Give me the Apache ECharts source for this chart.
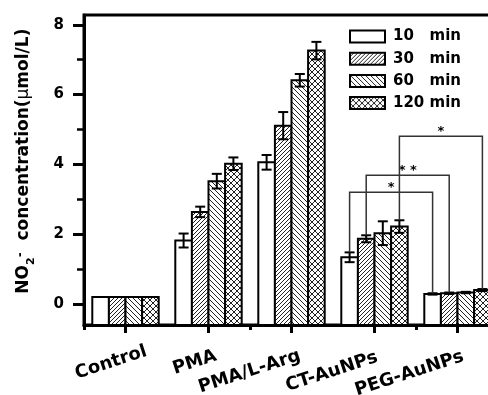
<!DOCTYPE html>
<html><head><meta charset="utf-8">
<script src="https://cdn.jsdelivr.net/npm/echarts@6/dist/echarts.min.js"></script>
<style>html,body{margin:0;padding:0;background:#fff}#c{width:488px;height:395px}</style>
</head><body><div id="c"></div>
<script>
// ---------- data ----------
const categories = ['Control', 'PMA', 'PMA/L-Arg', 'CT-AuNPs', 'PEG-AuNPs'];
const seriesNames = ['10   min', '30   min', '60   min', '120 min'];
const values10  = [0.20, 1.82, 4.06, 1.34, 0.29];
const errors10  = [0.00, 0.20, 0.21, 0.14, 0.02];
const values30  = [0.20, 2.64, 5.11, 1.87, 0.31];
const errors30  = [0.00, 0.15, 0.39, 0.10, 0.02];
const values60  = [0.20, 3.52, 6.41, 2.03, 0.33];
const errors60  = [0.00, 0.21, 0.18, 0.34, 0.02];
const values120 = [0.20, 4.02, 7.26, 2.22, 0.40];
const errors120 = [0.00, 0.18, 0.25, 0.18, 0.03];
const yTickValues = [0, 2, 4, 6, 8];
// significance brackets: [category, series] -> [category, series], bracket level (µmol/L), mark
const bracketFrom  = [[3, 0], [3, 1], [3, 3]];
const bracketTo    = [[4, 0], [4, 1], [4, 3]];
const bracketLevel = [3.20, 3.69, 4.81];
const bracketMark  = ['*', '* *', '*'];

// ---------- style ----------
const Y_MIN = -0.6, Y_MAX = 8.28;
const BAR_FRAC = 0.2;
const FONT = 'DejaVu Sans';
const labelShift = [22, 8, 9, 3, 6];

const allValues = [values10, values30, values60, values120];
const allErrors = [errors10, errors30, errors60, errors120];

function makePattern(kind, s) {
  const c = document.createElement('canvas');
  c.width = s; c.height = s;
  const ctx = c.getContext('2d');
  ctx.fillStyle = '#fff'; ctx.fillRect(0, 0, s, s);
  ctx.strokeStyle = '#222'; ctx.lineWidth = 1;
  ctx.beginPath();
  if (kind === 'fwd' || kind === 'cross') {
    ctx.moveTo(-1, 1); ctx.lineTo(1, -1);
    ctx.moveTo(0, s); ctx.lineTo(s, 0);
    ctx.moveTo(s - 1, s + 1); ctx.lineTo(s + 1, s - 1);
  }
  if (kind === 'back' || kind === 'cross') {
    ctx.moveTo(-1, s - 1); ctx.lineTo(1, s + 1);
    ctx.moveTo(0, 0); ctx.lineTo(s, s);
    ctx.moveTo(s - 1, -1); ctx.lineTo(s + 1, 1);
  }
  ctx.stroke();
  return { image: c, repeat: 'repeat' };
}
const fills = ['#fff', makePattern('fwd', 4), makePattern('back', 5), makePattern('cross', 6)];

function barCenter(api, cat, s) {
  const band = api.size([1, 0])[0];
  const bw = band * BAR_FRAC;
  const c = api.coord([cat, 0])[0];
  return c + (s - 1.5) * bw;
}

function barRender(s) {
  return function (params, api) {
    const cat = api.value(0), v = api.value(1), e = api.value(2);
    const band = api.size([1, 0])[0];
    const bw = band * BAR_FRAC;
    const cx = barCenter(api, cat, s);
    const yTop = api.coord([cat, v])[1];
    const yBase = api.coord([cat, Y_MIN])[1];
    const children = [{
      type: 'rect',
      shape: { x: cx - bw / 2, y: yTop, width: bw, height: yBase - yTop },
      style: { fill: fills[s], stroke: '#000', lineWidth: 2 }
    }];
    if (e > 0) {
      const yh = api.coord([cat, v + e])[1], yl = api.coord([cat, v - e])[1];
      const ls = { stroke: '#000', lineWidth: 2 };
      children.push({ type: 'line', shape: { x1: cx, y1: yh, x2: cx, y2: yl }, style: ls });
      children.push({ type: 'line', shape: { x1: cx - 5, y1: yh, x2: cx + 5, y2: yh }, style: ls });
      children.push({ type: 'line', shape: { x1: cx - 5, y1: yl, x2: cx + 5, y2: yl }, style: ls });
    }
    return { type: 'group', children };
  };
}

const barSeries = seriesNames.map((name, s) => ({
  name,
  type: 'custom',
  renderItem: barRender(s),
  encode: { x: 0, y: 1 },
  itemStyle: { color: fills[s], borderColor: '#000', borderWidth: 2 },
  data: categories.map((c, i) => [i, allValues[s][i], allErrors[s][i]]),
  z: 2
}));

const bracketSeries = {
  type: 'custom',
  name: 'brackets',
  encode: { x: 0, y: 1 },
  z: 5,
  silent: true,
  data: bracketLevel.map((lv, k) => [bracketFrom[k][0], lv]),
  renderItem: function (params, api) {
    const k = params.dataIndex;
    const [ca, sa] = bracketFrom[k], [cb, sb] = bracketTo[k];
    const xa = barCenter(api, ca, sa), xb = barCenter(api, cb, sb);
    const ya = api.coord([ca, allValues[sa][ca] + allErrors[sa][ca]])[1];
    const yb = api.coord([cb, allValues[sb][cb] + allErrors[sb][cb]])[1];
    const yl = api.coord([ca, bracketLevel[k]])[1];
    return {
      type: 'group',
      children: [
        { type: 'polyline', shape: { points: [[xa, ya], [xa, yl], [xb, yl], [xb, yb]] },
          style: { stroke: '#333', lineWidth: 1.5, fill: null } },
        { type: 'text', style: { text: bracketMark[k], x: (xa + xb) / 2, y: yl - 5,
          align: 'center', verticalAlign: 'middle', fill: '#000',
          font: 'bold 13px "' + FONT + '"' } }
      ]
    };
  }
};

const chart = echarts.init(document.getElementById('c'), null, { renderer: 'canvas' });
chart.setOption({
  animation: false,
  backgroundColor: '#fff',
  grid: {
    left: 84, top: 15, width: 415, height: 310,
    containLabel: false, outerBoundsMode: 'none',
    show: true, borderColor: '#000', borderWidth: 3, backgroundColor: 'transparent'
  },
  legend: {
    data: seriesNames,
    orient: 'vertical',
    left: 344, top: 24,
    itemWidth: 35, itemHeight: 12, itemGap: 7.2,
    icon: 'rect',
    itemStyle: { borderColor: '#000', borderWidth: 2 },
    textStyle: { fontFamily: FONT, fontWeight: 'bold', fontSize: 15, color: '#000', padding: [0, 0, 0, 3] },
    selectedMode: false
  },
  xAxis: [{
    type: 'category',
    data: categories.map((c, i) => ({ value: c, textStyle: { padding: [0, -labelShift[i], 0, 0] } })),
    position: 'bottom',
    axisLine: { show: true, onZero: false, lineStyle: { color: '#000', width: 3 } },
    axisTick: { show: true, alignWithLabel: true, length: 8, lineStyle: { color: '#000', width: 3 } },
    axisLabel: { interval: 0, rotate: 18, margin: 33, fontFamily: FONT, fontWeight: 'bold', fontSize: 18, color: '#000' },
    splitLine: { show: false }
  }, {
    type: 'category',
    data: categories,
    position: 'bottom',
    axisLine: { show: false, onZero: false },
    axisTick: { show: true, length: 5, lineStyle: { color: '#000', width: 3 } },
    axisLabel: { show: false },
    splitLine: { show: false }
  }],
  yAxis: {
    type: 'value',
    min: Y_MIN, max: Y_MAX,
    name: '{b|   NO}{sub|2}{sup|-}{b|  concentration(}{mu|μ}{b|mol/L)}',
    nameLocation: 'middle',
    nameGap: 47,
    nameMoveOverlap: false,
    nameTextStyle: {
      fontFamily: FONT, fontWeight: 'bold', fontSize: 17, color: '#000',
      rich: {
        b: { fontFamily: FONT, fontWeight: 'bold', fontSize: 17, lineHeight: 22, verticalAlign: 'top', color: '#000' },
        mu: { fontFamily: FONT, fontWeight: 'normal', fontSize: 17, lineHeight: 22, verticalAlign: 'top', color: '#000' },
        sub: { fontFamily: FONT, fontWeight: 'bold', fontSize: 11, lineHeight: 11, verticalAlign: 'bottom', color: '#000' },
        sup: { fontFamily: FONT, fontWeight: 'bold', fontSize: 12, lineHeight: 12, verticalAlign: 'top', color: '#000' }
      }
    },
    axisLine: { show: true, onZero: false, lineStyle: { color: '#000', width: 3 } },
    axisTick: { show: true, customValues: yTickValues, length: 11, lineStyle: { color: '#000', width: 3 } },
    minorTick: { show: true, splitNumber: 2, length: 7, lineStyle: { color: '#000', width: 2.5 } },
    axisLabel: { customValues: yTickValues, margin: 20, fontFamily: FONT, fontWeight: 'bold', fontSize: 15, color: '#000' },
    splitLine: { show: false },
    minorSplitLine: { show: false }
  },
  series: barSeries.concat([bracketSeries])
});
</script>
</body></html>
